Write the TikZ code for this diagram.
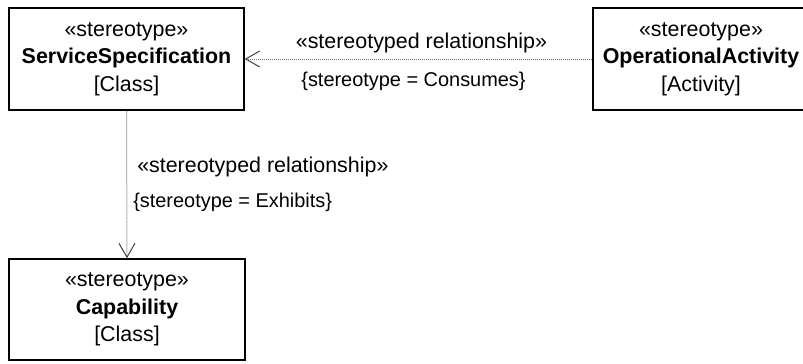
\documentclass[tikz,border=0pt]{standalone}
\usepackage{fontspec}
\setmainfont{Liberation Sans}
\usepackage{tikz}
\usetikzlibrary{arrows.meta}
\definecolor{linegray}{HTML}{6E6E6E}
\definecolor{tipgray}{HTML}{404040}

\tikzset{
  umlbox/.style={draw, line width=1.4bp, rectangle, align=center, inner sep=0pt,
    font=\fontsize{21.5}{27.5}\selectfont},
  rel/.style={linegray, line width=1bp, densely dotted,
    -{Straight Barb[length=14bp, width=16bp, line width=1bp, color=tipgray]}},
  rellabel/.style={text=black, font=\fontsize{21.5}{24}\selectfont, inner sep=0pt},
  reltag/.style={rellabel, font=\fontsize{20}{24}\selectfont}
}

\begin{document}
\begin{tikzpicture}[x=1bp, y=-1bp]
  \useasboundingbox (0,0) rectangle (803,363);
  % classes
  \node[umlbox, minimum width=235bp, minimum height=102bp] (svc) at (126.5,59)
    {«stereotype»\\\textbf{ServiceSpecification}\\{[}Class{]}};
  \node[umlbox, minimum width=216bp, minimum height=102bp] (opact) at (701,59)
    {«stereotype»\\\textbf{OperationalActivity}\\{[}Activity{]}};
  \node[umlbox, minimum width=236bp, minimum height=101bp] (cap) at (127,309.5)
    {«stereotype»\\\textbf{Capability}\\{[}Class{]}};
  % relationships
  \draw[rel] (opact.west) -- (svc.east)
    node[rellabel, midway, xshift=3bp, yshift=16bp] (consrel) {«stereotyped relationship»}
    node[reltag, midway, xshift=-5bp, yshift=-22bp] (constag) {\{stereotype = Consumes\}};
  \draw[rel] (svc.south) -- (cap.north)
    node[rellabel, midway, anchor=west, xshift=10bp, yshift=17.5bp] (exhrel) {«stereotyped relationship»}
    node[reltag, midway, anchor=west, xshift=6bp, yshift=-17.5bp] (exhtag) {\{stereotype = Exhibits\}};
\end{tikzpicture}
\end{document}
